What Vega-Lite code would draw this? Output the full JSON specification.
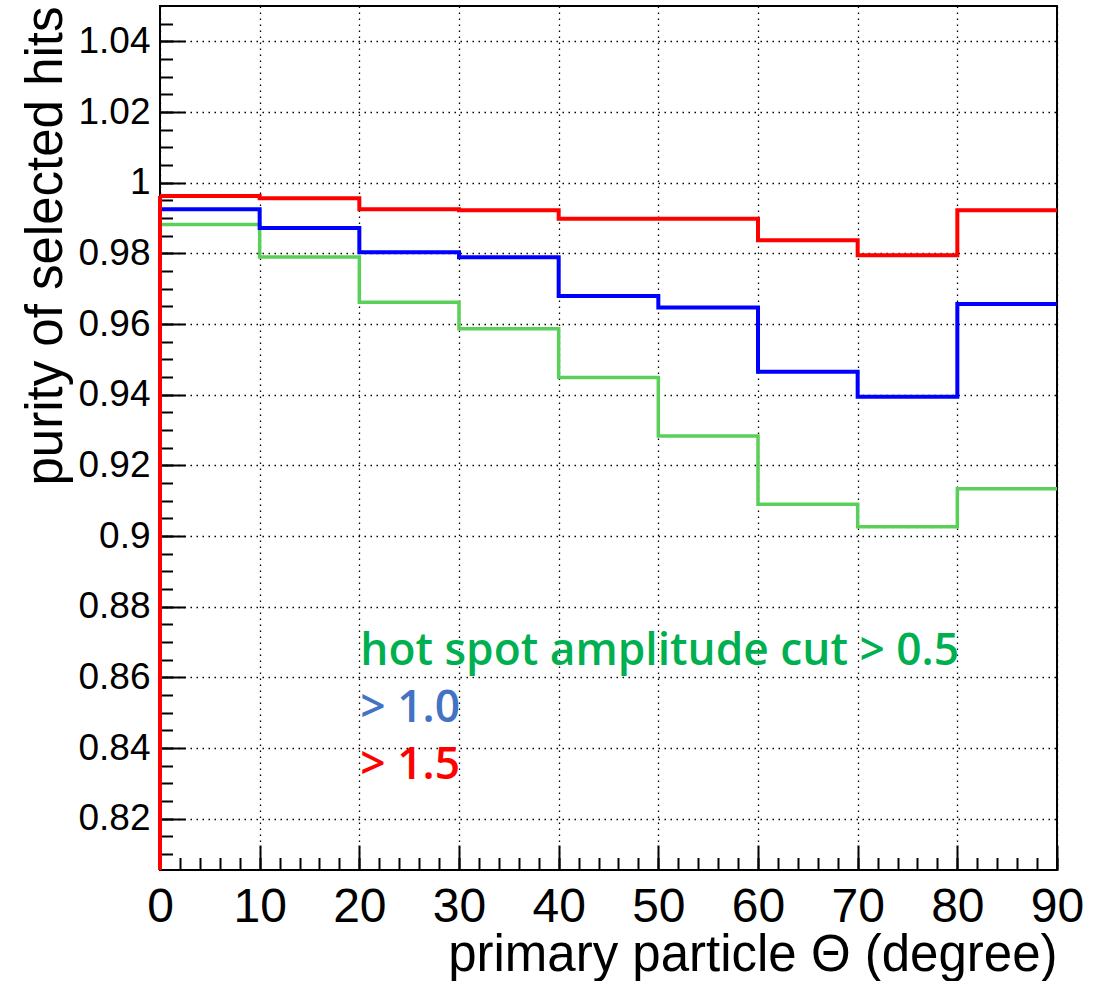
{
  "$schema": "https://vega.github.io/schema/vega-lite/v6.json",
  "autosize": "none",
  "width": 897,
  "height": 864,
  "padding": {"left": 160, "top": 6, "right": 40, "bottom": 111},
  "background": "white",
  "config": {
    "view": {"stroke": "#000000", "strokeWidth": 2},
    "font": "Liberation Sans"
  },
  "datasets": {
    "hist": [
      {"cut": "0.5", "lo": 0, "hi": 10, "purity": 0.9882},
      {"cut": "0.5", "lo": 10, "hi": 20, "purity": 0.9790},
      {"cut": "0.5", "lo": 20, "hi": 30, "purity": 0.9662},
      {"cut": "0.5", "lo": 30, "hi": 40, "purity": 0.9587},
      {"cut": "0.5", "lo": 40, "hi": 50, "purity": 0.9449},
      {"cut": "0.5", "lo": 50, "hi": 60, "purity": 0.9283},
      {"cut": "0.5", "lo": 60, "hi": 70, "purity": 0.9090},
      {"cut": "0.5", "lo": 70, "hi": 80, "purity": 0.9026},
      {"cut": "0.5", "lo": 80, "hi": 90, "purity": 0.9134},
      {"cut": "1.0", "lo": 0, "hi": 10, "purity": 0.9925},
      {"cut": "1.0", "lo": 10, "hi": 20, "purity": 0.9872},
      {"cut": "1.0", "lo": 20, "hi": 30, "purity": 0.9803},
      {"cut": "1.0", "lo": 30, "hi": 40, "purity": 0.9789},
      {"cut": "1.0", "lo": 40, "hi": 50, "purity": 0.9679},
      {"cut": "1.0", "lo": 50, "hi": 60, "purity": 0.9647},
      {"cut": "1.0", "lo": 60, "hi": 70, "purity": 0.9465},
      {"cut": "1.0", "lo": 70, "hi": 80, "purity": 0.9394},
      {"cut": "1.0", "lo": 80, "hi": 90, "purity": 0.9657},
      {"cut": "1.5", "lo": 0, "hi": 10, "purity": 0.9962},
      {"cut": "1.5", "lo": 10, "hi": 20, "purity": 0.9956},
      {"cut": "1.5", "lo": 20, "hi": 30, "purity": 0.9925},
      {"cut": "1.5", "lo": 30, "hi": 40, "purity": 0.9922},
      {"cut": "1.5", "lo": 40, "hi": 50, "purity": 0.9898},
      {"cut": "1.5", "lo": 50, "hi": 60, "purity": 0.9898},
      {"cut": "1.5", "lo": 60, "hi": 70, "purity": 0.9837},
      {"cut": "1.5", "lo": 70, "hi": 80, "purity": 0.9795},
      {"cut": "1.5", "lo": 80, "hi": 90, "purity": 0.9922}
    ]
  },
  "data": {"name": "hist"},
  "layer": [
    {
      "mark": {"type": "rule", "opacity": 0},
      "encoding": {
        "x": {"field": "lo", "type": "quantitative", "scale": {"domain": [0, 90], "nice": false, "zero": false},
          "axis": {"orient": "bottom", "values": [0,2,4,6,8,10,12,14,16,18,20,22,24,26,28,30,32,34,36,38,40,42,44,46,48,50,52,54,56,58,60,62,64,66,68,70,72,74,76,78,80,82,84,86,88,90],
            "tickSize": -12.5, "tickWidth": 2, "tickColor": "#000000", "labels": false, "domain": false, "grid": false, "title": null}},
        "y": {"field": "purity", "type": "quantitative", "scale": {"domain": [0.8055, 1.05], "nice": false, "zero": false},
          "axis": {"orient": "left", "values": [0.81,0.815,0.82,0.825,0.83,0.835,0.84,0.845,0.85,0.855,0.86,0.865,0.87,0.875,0.88,0.885,0.89,0.895,0.9,0.905,0.91,0.915,0.92,0.925,0.93,0.935,0.94,0.945,0.95,0.955,0.96,0.965,0.97,0.975,0.98,0.985,0.99,0.995,1,1.005,1.01,1.015,1.02,1.025,1.03,1.035,1.04,1.045],
            "tickSize": -12.5, "tickWidth": 2, "tickColor": "#000000", "labels": false, "domain": false, "grid": false, "title": null}}
      }
    },
    {
      "mark": {"type": "rule", "opacity": 0},
      "encoding": {
        "x": {"field": "lo", "type": "quantitative", "scale": {"domain": [0, 90], "nice": false, "zero": false},
          "axis": {"orient": "bottom", "values": [0,10,20,30,40,50,60,70,80,90],
            "tickSize": -25, "tickWidth": 2, "tickColor": "#000000", "domain": false,
            "grid": true, "gridColor": "#000000", "gridOpacity": 1, "gridWidth": 1.3, "gridDash": [1.5, 4.5],
            "labelFont": "Liberation Sans", "labelFontSize": 48, "labelColor": "#000000", "labelPadding": 38,
            "labelFlush": false, "labelOverlap": false,
            "title": "primary particle Θ (degree)", "titleFont": "Liberation Sans", "titleFontSize": 51, "titleFontWeight": "normal",
            "titleColor": "#000000", "titleX": 897, "titleY": 100, "titleAlign": "right", "titleBaseline": "alphabetic"}},
        "y": {"field": "purity", "type": "quantitative", "scale": {"domain": [0.8055, 1.05], "nice": false, "zero": false},
          "axis": {"orient": "left", "values": [0.82,0.84,0.86,0.88,0.9,0.92,0.94,0.96,0.98,1,1.02,1.04], "format": "~g",
            "tickSize": -25, "tickWidth": 2, "tickColor": "#000000", "domain": false,
            "grid": true, "gridColor": "#000000", "gridOpacity": 1, "gridWidth": 1.3, "gridDash": [1.5, 4.5],
            "labelFont": "Liberation Sans", "labelFontSize": 37, "labelColor": "#000000", "labelPadding": 35,
            "labelFlush": false, "labelOverlap": false,
            "title": "purity of selected hits", "titleFont": "Liberation Sans", "titleFontSize": 51, "titleFontWeight": "normal",
            "titleColor": "#000000", "titleX": -99, "titleY": 0, "titleAngle": -90, "titleAlign": "right", "titleBaseline": "alphabetic"}}
      }
    },
    {
      "transform": [{"filter": "datum.cut === '0.5'"}, {"fold": ["lo", "hi"], "as": ["edge", "theta"]}],
      "mark": {"type": "line", "color": "#5ad05a", "strokeWidth": 3.5, "clip": true, "strokeJoin": "miter", "strokeCap": "butt"},
      "encoding": {
        "x": {"field": "theta", "type": "quantitative", "scale": {"domain": [0, 90], "nice": false, "zero": false}, "axis": null},
        "y": {"field": "purity", "type": "quantitative", "scale": {"domain": [0.8055, 1.05], "nice": false, "zero": false}, "axis": null},
        "order": [{"field": "theta", "type": "quantitative"}, {"field": "lo", "type": "quantitative"}]
      }
    },
    {
      "transform": [{"filter": "datum.cut === '0.5' && datum.lo === 0"}],
      "mark": {"type": "rule", "color": "#5ad05a", "strokeWidth": 3.5},
      "encoding": {
        "x": {"field": "lo", "type": "quantitative", "scale": {"domain": [0, 90], "nice": false, "zero": false}, "axis": null},
        "y": {"field": "purity", "type": "quantitative", "scale": {"domain": [0.8055, 1.05], "nice": false, "zero": false}, "axis": null},
        "y2": {"datum": 0.8055}
      }
    },
    {
      "transform": [{"filter": "datum.cut === '1.0'"}, {"fold": ["lo", "hi"], "as": ["edge", "theta"]}],
      "mark": {"type": "line", "color": "#0000ff", "strokeWidth": 4, "clip": true, "strokeJoin": "miter", "strokeCap": "butt"},
      "encoding": {
        "x": {"field": "theta", "type": "quantitative", "scale": {"domain": [0, 90], "nice": false, "zero": false}, "axis": null},
        "y": {"field": "purity", "type": "quantitative", "scale": {"domain": [0.8055, 1.05], "nice": false, "zero": false}, "axis": null},
        "order": [{"field": "theta", "type": "quantitative"}, {"field": "lo", "type": "quantitative"}]
      }
    },
    {
      "transform": [{"filter": "datum.cut === '1.0' && datum.lo === 0"}],
      "mark": {"type": "rule", "color": "#0000ff", "strokeWidth": 4},
      "encoding": {
        "x": {"field": "lo", "type": "quantitative", "scale": {"domain": [0, 90], "nice": false, "zero": false}, "axis": null},
        "y": {"field": "purity", "type": "quantitative", "scale": {"domain": [0.8055, 1.05], "nice": false, "zero": false}, "axis": null},
        "y2": {"datum": 0.8055}
      }
    },
    {
      "transform": [{"filter": "datum.cut === '1.5'"}, {"fold": ["lo", "hi"], "as": ["edge", "theta"]}],
      "mark": {"type": "line", "color": "#ff0000", "strokeWidth": 4, "clip": true, "strokeJoin": "miter", "strokeCap": "butt"},
      "encoding": {
        "x": {"field": "theta", "type": "quantitative", "scale": {"domain": [0, 90], "nice": false, "zero": false}, "axis": null},
        "y": {"field": "purity", "type": "quantitative", "scale": {"domain": [0.8055, 1.05], "nice": false, "zero": false}, "axis": null},
        "order": [{"field": "theta", "type": "quantitative"}, {"field": "lo", "type": "quantitative"}]
      }
    },
    {
      "transform": [{"filter": "datum.cut === '1.5' && datum.lo === 0"}],
      "mark": {"type": "rule", "color": "#ff0000", "strokeWidth": 4},
      "encoding": {
        "x": {"field": "lo", "type": "quantitative", "scale": {"domain": [0, 90], "nice": false, "zero": false}, "axis": null},
        "y": {"field": "purity", "type": "quantitative", "scale": {"domain": [0.8055, 1.05], "nice": false, "zero": false}, "axis": null},
        "y2": {"datum": 0.8055}
      }
    },
    {
      "data": {"values": [{"label": "hot spot amplitude cut > 0.5"}]},
      "mark": {"type": "text", "color": "#00b050", "font": "Open Sans", "fontWeight": 600, "fontSize": 44.3, "align": "left", "baseline": "alphabetic"},
      "encoding": {
        "text": {"field": "label"},
        "x": {"datum": 20.1, "type": "quantitative", "scale": {"domain": [0, 90], "nice": false, "zero": false}, "axis": null},
        "y": {"datum": 0.8635, "type": "quantitative", "scale": {"domain": [0.8055, 1.05], "nice": false, "zero": false}, "axis": null}
      }
    },
    {
      "data": {"values": [{"label": "> 1.0"}]},
      "mark": {"type": "text", "color": "#4472c4", "font": "Open Sans", "fontWeight": 600, "fontSize": 44.3, "align": "left", "baseline": "alphabetic"},
      "encoding": {
        "text": {"field": "label"},
        "x": {"datum": 20.1, "type": "quantitative", "scale": {"domain": [0, 90], "nice": false, "zero": false}, "axis": null},
        "y": {"datum": 0.8474, "type": "quantitative", "scale": {"domain": [0.8055, 1.05], "nice": false, "zero": false}, "axis": null}
      }
    },
    {
      "data": {"values": [{"label": "> 1.5"}]},
      "mark": {"type": "text", "color": "#ff0000", "font": "Open Sans", "fontWeight": 600, "fontSize": 44.3, "align": "left", "baseline": "alphabetic"},
      "encoding": {
        "text": {"field": "label"},
        "x": {"datum": 20.1, "type": "quantitative", "scale": {"domain": [0, 90], "nice": false, "zero": false}, "axis": null},
        "y": {"datum": 0.8313, "type": "quantitative", "scale": {"domain": [0.8055, 1.05], "nice": false, "zero": false}, "axis": null}
      }
    }
  ],
  "resolve": {"axis": {"x": "independent", "y": "independent"}}
}
